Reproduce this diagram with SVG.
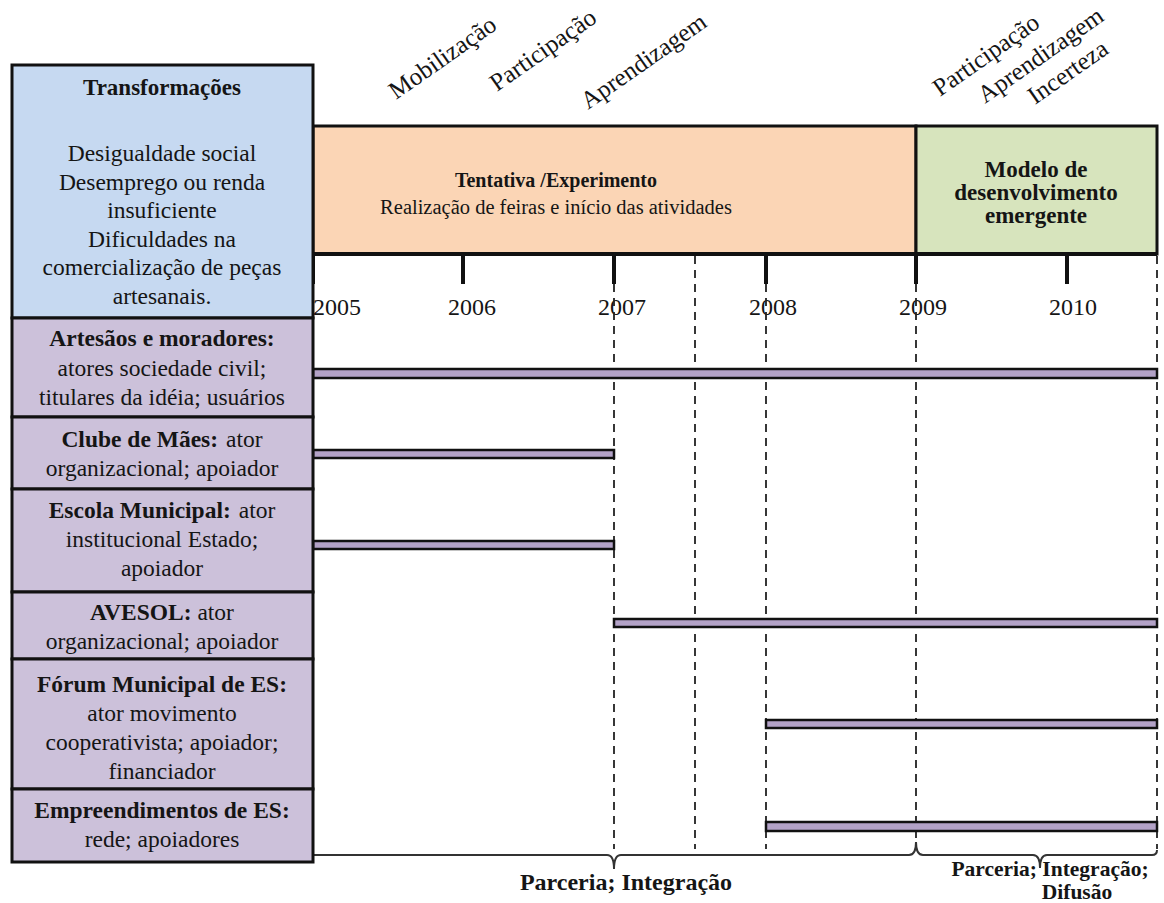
<svg xmlns="http://www.w3.org/2000/svg" width="1164" height="903" viewBox="0 0 1164 903">
<style>
.t{font-family:"Liberation Serif","Times New Roman",serif;fill:#151515}
.c{text-anchor:middle}
.b{font-weight:bold}
.box{stroke:#111;stroke-width:3}
.blue{fill:#c6d9f1}
.pur{fill:#ccc1da}
.bar{fill:#b3a2c7;stroke:#111;stroke-width:2.5}
.tick{stroke:#111;stroke-width:4}
.dash{stroke:#222;stroke-width:1.8;stroke-dasharray:8 6;fill:none}
.brace{stroke:#333;stroke-width:2;fill:none}
</style>
<rect width="1164" height="903" fill="#fff"/>

<g id="labels-top" class="t" font-size="25">
<text transform="translate(396,100) rotate(-35)">Mobilização</text>
<text transform="translate(497,92) rotate(-35)">Participação</text>
<text transform="translate(588,110) rotate(-35)">Aprendizagem</text>
<text transform="translate(940,97) rotate(-35)">Participação</text>
<text transform="translate(985,104) rotate(-35)">Aprendizagem</text>
<text transform="translate(1035,105) rotate(-35)">Incerteza</text>
</g>

<g id="phase-tentativa">
<rect x="313" y="126" width="603" height="128" fill="#fbd5b5" class="box"/>
<text class="t c b" x="556" y="187" font-size="20">Tentativa /Experimento</text>
<text class="t c" x="556" y="214" font-size="20.5">Realização de feiras e início das atividades</text>
</g>

<g id="phase-modelo">
<rect x="916" y="126" width="241" height="128" fill="#d7e4bd" class="box"/>
<text class="t c b" x="1036" y="177" font-size="23">Modelo de</text>
<text class="t c b" x="1036" y="200" font-size="23">desenvolvimento</text>
<text class="t c b" x="1036" y="223" font-size="23">emergente</text>
</g>

<g id="axis">
<line x1="313" y1="254" x2="1157" y2="254" stroke="#111" stroke-width="4"/>
<line class="tick" x1="313" y1="252" x2="313" y2="284"/>
<line class="tick" x1="463" y1="252" x2="463" y2="284"/>
<line class="tick" x1="614" y1="252" x2="614" y2="284"/>
<line class="tick" x1="766" y1="252" x2="766" y2="284"/>
<line class="tick" x1="916" y1="252" x2="916" y2="284"/>
<line class="tick" x1="1067" y1="252" x2="1067" y2="284"/>
<g class="t" font-size="24">
<text x="313" y="315">2005</text>
<text class="c" x="472" y="315">2006</text>
<text class="c" x="622" y="315">2007</text>
<text class="c" x="773" y="315">2008</text>
<text class="c" x="923" y="315">2009</text>
<text class="c" x="1073" y="315">2010</text>
</g>
</g>

<g id="connectors">
<line class="dash" x1="614" y1="284" x2="614" y2="849"/>
<line class="dash" x1="695" y1="256" x2="695" y2="849"/>
<line class="dash" x1="766" y1="284" x2="766" y2="849"/>
<line class="dash" x1="916" y1="284" x2="916" y2="849"/>
<line class="dash" x1="1157" y1="256" x2="1157" y2="849"/>
<path class="brace" d="M313,855 L607,855 Q614,855 614,869 Q614,855 621,855 L909,855 Q916,855 916,842 Q916,855 923,855 L1033,855 Q1040,855 1040,868 Q1040,855 1047,855 L1152,855 Q1157,855 1157,850"/>
</g>

<g id="bars">
<rect class="bar" x="313" y="369" width="844" height="9"/>
<rect class="bar" x="313" y="450" width="301" height="8"/>
<rect class="bar" x="313" y="541" width="301" height="8"/>
<rect class="bar" x="614" y="619" width="543" height="8"/>
<rect class="bar" x="766" y="720" width="391" height="8"/>
<rect class="bar" x="766" y="822" width="391" height="9"/>
</g>

<g id="node-transformacoes">
<rect x="12" y="65" width="301" height="253" class="box blue"/>
<g class="t c" font-size="23.5">
<text class="b" x="162" y="95" font-size="23">Transformações</text>
<text x="162" y="161">Desigualdade social</text>
<text x="162" y="189.5">Desemprego ou renda</text>
<text x="162" y="218">insuficiente</text>
<text x="162" y="246.5">Dificuldades na</text>
<text x="162" y="275">comercialização de peças</text>
<text x="162" y="303.5">artesanais.</text>
</g>
</g>

<g id="node-artesaos">
<rect x="12" y="318" width="301" height="99" class="box pur"/>
<g class="t c" font-size="23.5">
<text class="b" x="162" y="346">Artesãos e moradores:</text>
<text x="162" y="376">atores sociedade civil;</text>
<text x="162" y="405">titulares da idéia; usuários</text>
</g>
</g>

<g id="node-clube">
<rect x="12" y="417" width="301" height="72" class="box pur"/>
<g class="t c" font-size="23.5">
<text x="162" y="447"><tspan class="b">Clube de Mães:</tspan><tspan dx="8">ator</tspan></text>
<text x="162" y="476">organizacional; apoiador</text>
</g>
</g>

<g id="node-escola">
<rect x="12" y="489" width="301" height="103" class="box pur"/>
<g class="t c" font-size="23.5">
<text x="162" y="518"><tspan class="b">Escola Municipal:</tspan><tspan dx="8">ator</tspan></text>
<text x="162" y="547">institucional Estado;</text>
<text x="162" y="576">apoiador</text>
</g>
</g>

<g id="node-avesol">
<rect x="12" y="592" width="301" height="67" class="box pur"/>
<g class="t c" font-size="23.5">
<text x="162" y="620"><tspan class="b">AVESOL:</tspan> ator</text>
<text x="162" y="649">organizacional; apoiador</text>
</g>
</g>

<g id="node-forum">
<rect x="12" y="659" width="301" height="130" class="box pur"/>
<g class="t c" font-size="23.5">
<text class="b" x="162" y="692">Fórum Municipal de ES:</text>
<text x="162" y="721">ator movimento</text>
<text x="162" y="750">cooperativista; apoiador;</text>
<text x="162" y="779">financiador</text>
</g>
</g>

<g id="node-empreendimentos">
<rect x="12" y="789" width="301" height="73" class="box pur"/>
<g class="t c" font-size="23.5">
<text class="b" x="162" y="818">Empreendimentos de ES:</text>
<text x="162" y="847">rede; apoiadores</text>
</g>
</g>

<g id="labels-bottom" class="t b">
<text class="c" x="626" y="890" font-size="24">Parceria; Integração</text>
<text class="c" x="1050" y="876" font-size="21.5">Parceria; Integração;</text>
<text class="c" x="1077" y="899" font-size="21.5">Difusão</text>
</g>
</svg>
